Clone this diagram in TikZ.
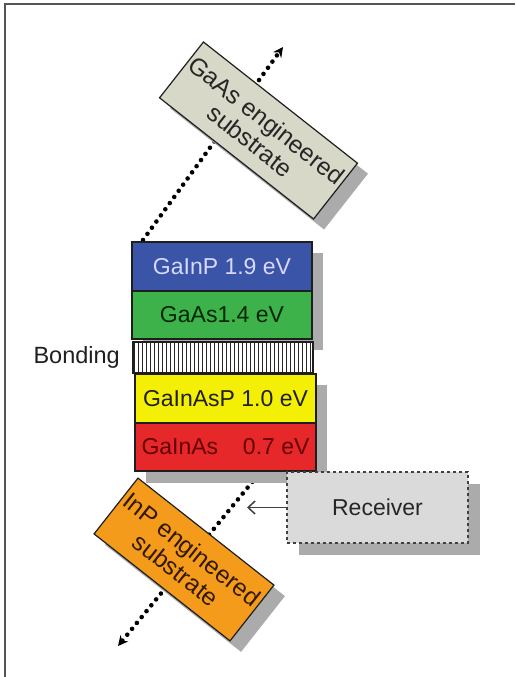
\documentclass[tikz,border=0pt]{standalone}
\usepackage{fontspec}
\setmainfont{Liberation Sans}
\usetikzlibrary{arrows.meta}
\definecolor{cblue}{HTML}{3A54A8}
\definecolor{cgreen}{HTML}{3DB24A}
\definecolor{cyellow}{HTML}{F3EF05}
\definecolor{cred}{HTML}{E6282A}
\definecolor{corange}{HTML}{F49B1C}
\definecolor{cgaas}{HTML}{D7D8C8}
\definecolor{crecv}{HTML}{DADADA}
\definecolor{cshadow}{HTML}{ABABAB}
\definecolor{cframe}{HTML}{555555}
\definecolor{cedge}{HTML}{1E1E1E}
\tikzset{
  layer/.style={rectangle, draw=cedge, line width=1.3pt, inner sep=0pt,
    minimum width=180pt, font=\fontsize{23}{25}\selectfont},
  tiltbox/.style={rectangle, draw=cedge, line width=1.2pt, inner sep=0pt,
    rotate=-38.2, align=center, minimum height=71pt,
    font=\fontsize{24.5}{26}\selectfont},
  tiltshadow/.style={rectangle, fill=cshadow, inner sep=0pt, rotate=-38.2,
    minimum height=71pt},
  dotarrow/.style={line width=4.6pt, dash pattern=on 0pt off 7.6pt, line cap=round,
    -{Stealth[length=10pt,width=10pt]}},
  recarrow/.style={draw=cedge!85, line width=1.5pt, -{Straight Barb[length=7pt,width=13pt]}},
  label/.style={inner sep=0pt, font=\fontsize{23.5}{25}\selectfont}
}
\begin{document}
\begin{tikzpicture}[x=1pt,y=-1pt]
\useasboundingbox (0,0) rectangle (515,677);
% frame
\draw[cframe, line width=2pt] (515,4) -- (5,4) -- (5,677);
% dotted arrows (behind boxes)
\coordinate (t0) at (143,240);
\coordinate (t1) at (283,47);
\coordinate (b0) at (262,470);
\coordinate (b1) at (118,646);
\draw[dotarrow] (t0) -- (t1);
\draw[dotarrow] (b0) -- (b1);
% GaAs engineered substrate
\node[tiltshadow, minimum width=196pt] (gaassh) at (269,141) {};
\node[tiltbox, fill=cgaas, minimum width=196pt, text=black!85] (gaas) at (258.5,130.5)
  {GaAs engineered\\substrate};
% stack shadows
\fill[cshadow] (143,253) rectangle (323,350);
\fill[cshadow] (146,385) rectangle (327,483);
% stack
\node[layer, fill=cblue, minimum height=49pt, text=white!85!blue] (ingap) at (222,266.5) {GaInP 1.9 eV};
\node[layer, fill=cgreen, minimum height=48pt, text=black!85!green] (gaasl) at (222,315) {GaAs1.4 eV};
\node[layer, fill=white, minimum height=31pt] (bond) at (223,357.5) {};
\foreach \i in {0,...,44} {
  \draw[black!85, line width=1.1pt] ([xshift={\i*4pt+2pt}]bond.north west) -- ([xshift={\i*4pt+2pt}]bond.south west);
}
\node[layer, fill=none, minimum height=31pt] (bondedge) at (223,357.5) {};
\node[layer, fill=cyellow, minimum width=181pt, minimum height=49pt, text=black!88] (gainasp) at (225.5,398.5) {GaInAsP 1.0 eV};
\node[layer, fill=cred, minimum width=181pt, minimum height=48pt, text=black!60!red] (gainas) at (225.5,447) {GaInAs\hspace{0.8em} 0.7 eV};
\node[label, anchor=east, text=black!88] (bondlabel) at (120,357) {Bonding};
% receiver
\node[rectangle, fill=cshadow, inner sep=0pt, minimum width=181pt, minimum height=71pt] (recsh) at (389.5,519.5) {};
\node[rectangle, draw=cedge!85, dashed, line width=1.3pt, fill=crecv, inner sep=0pt,
  minimum width=181pt, minimum height=71pt, font=\fontsize{23}{25}\selectfont, text=black!85] (rec) at (377.5,507.5) {Receiver};
\coordinate (rtip) at (247,507.5);
\draw[recarrow] (rec.west) -- (rtip);
% InP engineered substrate
\node[tiltshadow, minimum width=173pt] (inpsh) at (195,570.5) {};
\node[tiltbox, fill=corange, minimum width=173pt, text=black!80!orange] (inp) at (184,559.5)
  {InP engineered\\substrate};
\end{tikzpicture}
\end{document}
